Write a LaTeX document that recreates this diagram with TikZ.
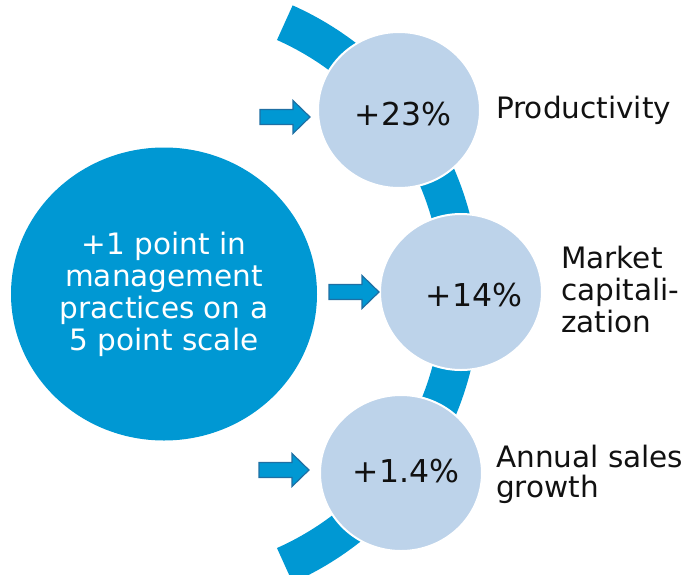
\documentclass[tikz,border=0pt]{standalone}
\usepackage{fontspec}
\setmainfont{DejaVu Sans}
\usetikzlibrary{calc,shapes.geometric}
\definecolor{hubblue}{HTML}{0098D3}
\definecolor{palecircle}{HTML}{BDD3EA}
\definecolor{arrowedge}{HTML}{1F6FA3}
\definecolor{inktext}{HTML}{111111}
\newcommand\blockarrow[1]{%
  \draw[blockarrow] ($(#1)+(-50,-7.5)$) -- ($(#1)+(-17,-7.5)$) -- ($(#1)+(-17,-16.5)$)
    -- (#1) -- ($(#1)+(-17,16.5)$) -- ($(#1)+(-17,7.5)$) -- ($(#1)+(-50,7.5)$) -- cycle;}
\begin{document}
\begin{tikzpicture}[x=1pt,y=-1pt,
  hub/.style={ellipse, fill=hubblue, minimum width=306pt, minimum height=293pt,
    inner sep=0pt, text=white, align=center, font=\fontsize{29.5}{32}\selectfont},
  result/.style={ellipse, fill=palecircle, draw=white, line width=2pt,
    minimum width=162pt, minimum height=156pt, inner sep=0pt},
  pct/.style={font=\fontsize{31.5}{36}\selectfont, text=inktext, inner sep=0pt, anchor=base},
  effect/.style={font=\fontsize{29.5}{32}\selectfont, text=inktext, align=left,
    inner sep=0pt, anchor=base west},
  band/.style={draw=hubblue, line width=38pt},
  blockarrow/.style={fill=hubblue, draw=arrowedge, line width=1.2pt, line join=miter}]
\useasboundingbox (0,0) rectangle (691,574);

% central driver
\node[hub] (hub) at (164,294) {+1 point in\\management\\practices on a\\5 point scale};

% ring carrying the three outcomes
\draw[band] (hub.center) ++(66:297) arc[start angle=66, end angle=-66, radius=297];

% outcome circles
\node[result] (c1) at (399,110) {};
\node[result] (c2) at (461,292) {};
\node[result] (c3) at (401,473) {};

\node[pct] (p1) at (403,125) {+23\%};
\node[pct] (p2) at (474,306) {+14\%};
\node[pct] (p3) at (406,482) {+1.4\%};

% outcome labels (base anchor sits on the last line)
\node[effect] (l1) at (496,118) {Productivity};
\node[effect] (l2) at (561,332) {Market\\capitali-\\zation};
\node[effect, font=\fontsize{29.5}{30}\selectfont] (l3) at (496,497) {Annual sales\\growth};

% arrows pointing into each outcome
\coordinate (t1) at ($(c1.west)+(-7,7)$);
\coordinate (t2) at ($(c2.west)+(0,0)$);
\coordinate (t3) at ($(c3.west)+(-10,-3)$);
\blockarrow{t1}
\blockarrow{t2}
\blockarrow{t3}
\end{tikzpicture}
\end{document}
